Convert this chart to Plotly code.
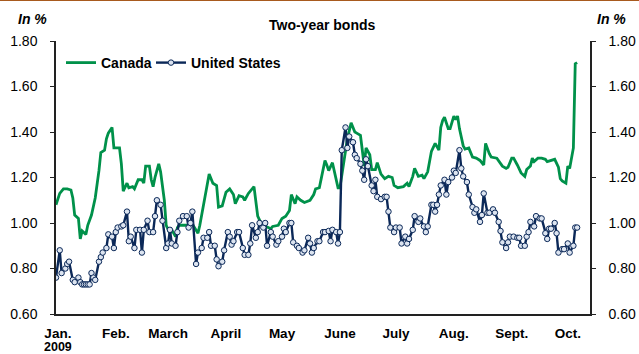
import pandas as pd
import plotly.graph_objects as go

# ---- data (days counted from 1 Jan 2009, yields in %) ----
us_day = [0, 2, 3, 5, 6, 7, 9, 10, 12, 13, 14, 15, 16, 17, 18, 19, 20, 21, 23, 24,
          25, 27, 28, 30, 31, 32, 33, 35, 36, 38, 39, 40, 42, 43, 45, 46, 47, 49, 50, 52,
          53, 54, 56, 57, 59, 60, 61, 62, 64, 65, 66, 68, 70, 71, 72, 73, 75, 76, 78, 79,
          81, 82, 83, 85, 86, 87, 89, 90, 92, 93, 94, 95, 97, 98, 100, 101, 103, 104, 105, 107,
          108, 109, 111, 112, 113, 115, 116, 118, 119, 121, 122, 123, 125, 126, 127, 129, 130, 132, 133, 135,
          136, 137, 138, 140, 141, 143, 144, 146, 147, 148, 150, 151, 152, 153, 155, 156, 157, 159, 160, 161,
          163, 164, 165, 166, 167, 169, 170, 171, 172, 174, 176, 177, 178, 179, 181, 182, 184, 185, 187, 188,
          189, 191, 192, 194, 195, 197, 198, 199, 201, 202, 203, 204, 205, 206, 208, 209, 210, 212, 213, 214,
          216, 217, 218, 220, 221, 223, 224, 225, 227, 228, 229, 231, 232, 234, 235, 237, 238, 239, 241, 242,
          243, 245, 247, 248, 249, 251, 252, 253, 254, 256, 257, 259, 260, 262, 263, 264, 265, 267, 268, 269,
          271, 272, 274, 275, 277, 278, 279]
us_val = [0.76, 0.88, 0.78, 0.80, 0.82, 0.83, 0.75, 0.74, 0.76, 0.74, 0.73, 0.73, 0.73, 0.73, 0.73, 0.78, 0.76, 0.75, 0.83, 0.85,
          0.87, 0.89, 0.95, 0.94, 0.89, 0.96, 0.98, 0.985, 0.99, 1.05, 0.92, 0.94, 0.89, 0.97, 0.97, 0.87, 0.97, 1.01, 0.96, 0.96,
          1.03, 1.10, 1.08, 1.01, 0.89, 0.91, 0.97, 0.91, 0.90, 0.96, 1.01, 1.03, 1.03, 0.98, 1.00, 1.05, 0.82, 0.87, 0.89, 0.935,
          0.935, 0.96, 0.90, 0.90, 0.84, 0.81, 0.83, 0.88, 0.96, 0.94, 0.905, 0.92, 0.96, 0.96, 0.89, 0.86, 0.86, 0.91, 0.99, 0.935,
          0.96, 1.00, 0.98, 1.00, 0.90, 0.96, 0.94, 0.905, 0.92, 0.94, 0.975, 0.96, 1.00, 1.00, 0.915, 0.90, 0.89, 0.87, 0.88, 0.935,
          0.91, 0.87, 0.89, 0.92, 0.92, 0.96, 0.96, 0.965, 0.92, 0.97, 0.96, 0.91, 0.96, 1.32, 1.42, 1.33, 1.38, 1.355, 1.30, 1.285,
          1.26, 1.23, 1.19, 1.28, 1.25, 1.165, 1.14, 1.19, 1.115, 1.105, 1.115, 1.115, 1.05, 0.98, 0.96, 0.98, 0.98, 0.91, 0.94, 0.91,
          0.93, 0.97, 1.03, 1.005, 1.02, 0.985, 0.96, 0.985, 1.08, 1.08, 1.05, 1.08, 1.125, 1.165, 1.19, 1.125, 1.18, 1.20, 1.23, 1.22,
          1.32, 1.24, 1.205, 1.18, 1.125, 1.07, 1.045, 1.06, 1.005, 1.035, 1.13, 1.045, 1.045, 1.06, 1.045, 1.005, 0.965, 0.915, 0.89, 0.915,
          0.94, 0.94, 0.935, 0.935, 0.90, 0.90, 0.94, 0.96, 1.005, 0.985, 1.03, 1.02, 1.02, 0.955, 0.93, 0.975, 0.975, 1.00, 0.955, 0.87,
          0.885, 0.885, 0.91, 0.87, 0.90, 0.98, 0.98]

ca_day = [0, 2, 4, 6, 8, 9, 10, 12, 13, 14, 16, 17, 19, 21, 23, 24, 26, 27, 28, 30,
          31, 34, 35, 36, 38, 39, 41, 42, 44, 46, 47, 48, 50, 51, 52, 53, 55, 56, 58, 59,
          61, 62, 64, 65, 66, 70, 73, 76, 77, 79, 81, 82, 84, 86, 87, 89, 91, 93, 95, 96,
          98, 100, 101, 103, 106, 108, 110, 113, 115, 116, 119, 121, 123, 125, 126, 128, 129, 131, 133, 136,
          138, 139, 141, 142, 144, 145, 146, 148, 150, 151, 152, 156, 158, 160, 161, 163, 164, 165, 166, 168,
          169, 171, 172, 174, 176, 178, 180, 181, 183, 185, 186, 188, 189, 191, 192, 194, 196, 197, 199, 201,
          202, 203, 205, 206, 207, 208, 210, 211, 213, 214, 215, 216, 218, 219, 221, 223, 225, 227, 229, 230,
          232, 233, 236, 237, 239, 241, 242, 244, 245, 247, 249, 251, 252, 254, 255, 256, 258, 260, 262, 263,
          265, 267, 269, 270, 271, 273, 274, 275, 277, 278, 279]
ca_val = [1.08, 1.13, 1.15, 1.15, 1.145, 1.11, 1.035, 1.02, 0.93, 0.965, 0.95, 0.99, 1.035, 1.11, 1.23, 1.31, 1.32, 1.37, 1.395, 1.42,
          1.33, 1.33, 1.26, 1.14, 1.175, 1.155, 1.16, 1.15, 1.19, 1.19, 1.175, 1.25, 1.25, 1.19, 1.16, 1.20, 1.26, 1.225, 1.10, 0.99,
          0.955, 0.97, 0.94, 0.98, 0.99, 0.99, 0.995, 0.955, 0.99, 1.085, 1.18, 1.215, 1.175, 1.165, 1.07, 1.075, 1.135, 1.15, 1.125, 1.085,
          1.12, 1.115, 1.10, 1.13, 1.16, 1.03, 0.995, 0.985, 0.975, 0.985, 0.99, 1.02, 1.03, 1.055, 1.125, 1.085, 1.115, 1.10, 1.09, 1.10,
          1.125, 1.15, 1.155, 1.195, 1.275, 1.255, 1.23, 1.265, 1.20, 1.155, 1.155, 1.37, 1.44, 1.40, 1.395, 1.385, 1.32, 1.25, 1.33, 1.30,
          1.235, 1.235, 1.265, 1.215, 1.195, 1.205, 1.20, 1.165, 1.155, 1.16, 1.16, 1.175, 1.16, 1.205, 1.24, 1.205, 1.21, 1.195, 1.225, 1.315,
          1.335, 1.35, 1.32, 1.42, 1.45, 1.465, 1.415, 1.415, 1.47, 1.455, 1.47, 1.415, 1.34, 1.325, 1.33, 1.29, 1.285, 1.275, 1.255, 1.35,
          1.305, 1.29, 1.285, 1.275, 1.25, 1.24, 1.245, 1.285, 1.285, 1.255, 1.22, 1.205, 1.235, 1.25, 1.285, 1.27, 1.285, 1.285, 1.28, 1.27,
          1.275, 1.28, 1.245, 1.195, 1.185, 1.175, 1.25, 1.24, 1.33, 1.70, 1.705]

month_labels = ["Jan.", "Feb.", "March", "April", "May", "June", "July", "Aug.", "Sept.", "Oct."]
month_starts = ["2009-01-01", "2009-02-01", "2009-03-01", "2009-04-01", "2009-05-01",
                "2009-06-01", "2009-07-01", "2009-08-01", "2009-09-01", "2009-10-01"]
year_label = "2009"
y_ticks = [0.6, 0.8, 1.0, 1.2, 1.4, 1.6, 1.8]

base = pd.Timestamp("2009-01-01")
us_dates = base + pd.to_timedelta(us_day, unit="D")
ca_dates = base + pd.to_timedelta(ca_day, unit="D")
tick_dates = pd.to_datetime(month_starts) + pd.Timedelta(days=1)

GREEN = "#00914A"
NAVY = "#0B2858"
FONT = "Liberation Sans"
FS = 14

W = 639 - 56 - 49
H = 354 - 41 - 40

fig = go.Figure()
fig.add_trace(go.Scatter(x=ca_dates, y=ca_val, mode="lines", name="<b>Canada</b>",
                         legend="legend", line=dict(color=GREEN, width=2.8)))
fig.add_trace(go.Scatter(x=us_dates, y=us_val, mode="lines+markers", name="<b>United States</b>",
                         legend="legend2", line=dict(color=NAVY, width=2.4),
                         marker=dict(symbol="circle", size=5.5, color="#DCE4F0",
                                     line=dict(color=NAVY, width=1))))
# invisible trace for right axis
fig.add_trace(go.Scatter(x=[us_dates[0]], y=[us_val[0]], yaxis="y2", mode="markers",
                         marker=dict(opacity=0), showlegend=False, hoverinfo="skip"))

axis_common = dict(range=[0.6, 1.8], tickvals=y_ticks, tickformat=".2f",
                   showline=True, linecolor="#222", linewidth=1.5, ticks="outside",
                   ticklen=4, tickcolor="#222", tickwidth=1.2, showgrid=False, zeroline=False,
                   automargin=False, tickprefix="<b>", ticksuffix="</b>",
                   tickfont=dict(family=FONT, size=FS, color="black"))

legend_common = dict(orientation="h", xanchor="left", yanchor="middle",
                     y=1 - (63 - 41) / H, bgcolor="rgba(0,0,0,0)",
                     font=dict(family=FONT, size=FS, color="black"), itemwidth=30)

fig.update_layout(
    width=639, height=354,
    margin=dict(l=56, r=49, t=41, b=40, autoexpand=False),
    paper_bgcolor="white", plot_bgcolor="white",
    font=dict(family=FONT, size=FS, color="black"),
    xaxis=dict(type="date",
               range=[base, base + pd.Timedelta(days=285.9)],
               tickvals=tick_dates, ticktext=[f"<b>{t}</b>" for t in month_labels],
               showline=True, linecolor="#222", linewidth=1.5, ticks="",
               showgrid=False, zeroline=False, ticklabelstandoff=6, automargin=False,
               tickfont=dict(family=FONT, size=13.5, color="black")),
    yaxis=dict(**axis_common, side="left", ticklabelstandoff=10),
    yaxis2=dict(**axis_common, side="right", overlaying="y", ticklabelstandoff=10),
    showlegend=True,
    legend=dict(**legend_common, x=(61 - 56) / W),
    legend2=dict(**legend_common, x=(151 - 56) / W),
)

fig.add_annotation(text=f"<b>{year_label}</b>", x=tick_dates[0], y=1 - (346.5 - 41) / H,
                   xref="x", yref="paper", showarrow=False, yanchor="middle", height=12,
                   font=dict(family=FONT, size=12.5))
fig.add_annotation(text="<b>Two-year bonds</b>", x=(322 - 56) / W, y=1 + (41 - 25) / H,
                   xref="paper", yref="paper", showarrow=False, yanchor="middle",
                   font=dict(family=FONT, size=FS))
fig.add_annotation(text="<b><i>In %</i></b>", x=(16 - 56) / W, y=1 + (41 - 19) / H,
                   xref="paper", yref="paper", showarrow=False, xanchor="left", yanchor="middle",
                   font=dict(family=FONT, size=FS))
fig.add_annotation(text="<b><i>In %</i></b>", x=(628 - 56) / W, y=1 + (41 - 19) / H,
                   xref="paper", yref="paper", showarrow=False, xanchor="right", yanchor="middle",
                   font=dict(family=FONT, size=FS))

fig.add_shape(type="line", xref="paper", yref="paper", x0=-56 / W, x1=(639 - 56) / W,
              y0=1 + 41 / H, y1=1 + 41 / H, line=dict(color="#A85A1E", width=2))

fig.write_html("out.html")
